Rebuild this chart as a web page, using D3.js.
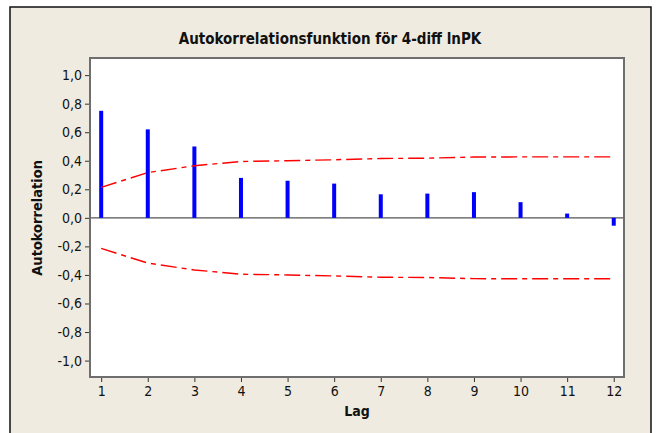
<!DOCTYPE html>
<html>
<head>
<meta charset="utf-8">
<script src="https://cdn.jsdelivr.net/npm/d3@7"></script>
<style>
  body { margin: 0; background: #fff; }
  svg { display: block; }
  text { font-family: "DejaVu Sans Condensed", "DejaVu Sans", sans-serif; }
</style>
</head>
<body>
<svg id="chart" width="658" height="433"></svg>
<script>
// ACF values per lag
const lags = [1, 2, 3, 4, 5, 6, 7, 8, 9, 10, 11, 12];
const acf = [0.75, 0.62, 0.50, 0.28, 0.26, 0.24, 0.165, 0.17, 0.18, 0.11, 0.03, -0.055];
// upper confidence limit (lower is the negative)
const limit = [0.214, 0.317, 0.365, 0.395, 0.400, 0.407, 0.416, 0.418, 0.426, 0.427, 0.427, 0.427];
const yTicks = [-1.0, -0.8, -0.6, -0.4, -0.2, 0.0, 0.2, 0.4, 0.6, 0.8, 1.0];

const svg = d3.select("#chart");
const width = 658, height = 433;
const margin = { left: 90, right: 34, top: 58, bottom: 56 };

// beige panel with black frame
svg.append("rect")
  .attr("x", 10).attr("y", 7)
  .attr("width", 641).attr("height", 440)
  .attr("fill", "#efebe0")
  .attr("stroke", "#111")
  .attr("stroke-width", 1.5);

const x = d3.scaleLinear()
  .domain([0.76, 12.22])
  .range([margin.left, width - margin.right]);

const y = d3.scaleLinear()
  .domain([-1.115, 1.12])
  .range([height - margin.bottom, margin.top]);

// plot area
svg.append("rect")
  .attr("x", margin.left).attr("y", margin.top)
  .attr("width", width - margin.left - margin.right)
  .attr("height", height - margin.top - margin.bottom)
  .attr("fill", "#fff");

const fmt = d => d3.format(".1f")(d).replace(".", ",").replace("−", "-");

// y axis
const yAxis = svg.append("g")
  .attr("transform", "translate(" + margin.left + ",0)")
  .call(d3.axisLeft(y).tickValues(yTicks).tickFormat(fmt).tickSize(5).tickPadding(3));
yAxis.select(".domain").remove();
yAxis.selectAll("line").attr("stroke", "#333");
yAxis.selectAll("text")
  .attr("font-size", 14)
  .attr("fill", "#111")
  .style("font-family", "'DejaVu Sans Condensed', 'DejaVu Sans', sans-serif");

// x axis
const xAxis = svg.append("g")
  .attr("transform", "translate(0," + (height - margin.bottom) + ")")
  .call(d3.axisBottom(x).tickValues(lags).tickFormat(d3.format("d")).tickSize(5).tickPadding(4));
xAxis.select(".domain").remove();
xAxis.selectAll("line").attr("stroke", "#333");
xAxis.selectAll("text")
  .attr("font-size", 14)
  .attr("fill", "#111")
  .style("font-family", "'DejaVu Sans Condensed', 'DejaVu Sans', sans-serif");

// zero reference line
svg.append("line")
  .attr("x1", margin.left).attr("x2", width - margin.right)
  .attr("y1", y(0)).attr("y2", y(0))
  .attr("stroke", "#555")
  .attr("stroke-width", 1.3);

// bars
svg.selectAll("rect.bar")
  .data(lags)
  .enter()
  .append("rect")
  .attr("class", "bar")
  .attr("x", d => x(d) - 2)
  .attr("width", 4)
  .attr("y", (d, i) => Math.min(y(acf[i]), y(0)))
  .attr("height", (d, i) => Math.abs(y(acf[i]) - y(0)))
  .attr("fill", "#0000ff");

// confidence limits
const line = d3.line()
  .x(d => x(d[0]))
  .y(d => y(d[1]));

[1, -1].forEach(s => {
  svg.append("path")
    .datum(lags.map((l, i) => [l, s * limit[i]]))
    .attr("d", line)
    .attr("fill", "none")
    .attr("stroke", "#ff0000")
    .attr("stroke-width", 1.4)
    .attr("stroke-dasharray", "16,5,5,5");
});

// plot frame
svg.append("rect")
  .attr("x", margin.left).attr("y", margin.top)
  .attr("width", width - margin.left - margin.right)
  .attr("height", height - margin.top - margin.bottom)
  .attr("fill", "none")
  .attr("stroke", "#6e6e6e")
  .attr("stroke-width", 2);

// title
svg.append("text")
  .attr("x", 330).attr("y", 44)
  .attr("text-anchor", "middle")
  .attr("font-size", 15)
  .attr("font-weight", "bold")
  .attr("fill", "#111")
  .text("Autokorrelationsfunktion för 4-diff lnPK");

// axis labels
svg.append("text")
  .attr("x", (margin.left + width - margin.right) / 2)
  .attr("y", 416)
  .attr("text-anchor", "middle")
  .attr("font-size", 14)
  .attr("font-weight", "bold")
  .attr("fill", "#111")
  .text("Lag");

svg.append("text")
  .attr("transform", "translate(42," + y(0) + ") rotate(-90)")
  .attr("text-anchor", "middle")
  .attr("font-size", 14.5)
  .attr("font-weight", "bold")
  .attr("fill", "#111")
  .text("Autokorrelation");
</script>
</body>
</html>
